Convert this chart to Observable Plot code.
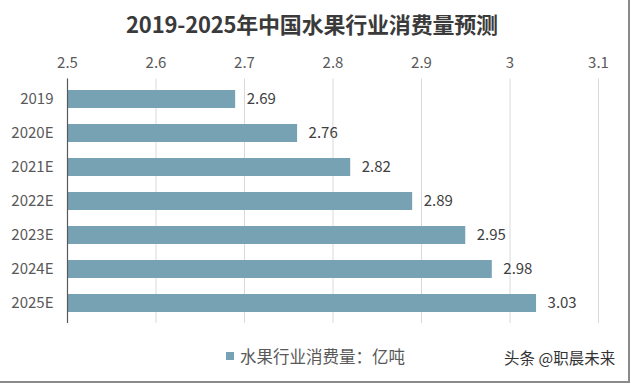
<!DOCTYPE html>
<html>
<head>
<meta charset="utf-8">
<script src="https://cdn.jsdelivr.net/npm/d3@7"></script>
<script src="https://cdn.jsdelivr.net/npm/@observablehq/plot@0.6"></script>
<style>
  html, body { margin: 0; padding: 0; background: #fff; }
  #wrap { position: relative; width: 631px; height: 385px; overflow: hidden;
          font-family: "Noto Sans CJK SC", "Noto Sans", sans-serif; }
  #title { position: absolute; left: 0; width: 624px; top: 7px; text-align: center;
           font-size: 22px; font-weight: bold; color: #3a3a3a; letter-spacing: -0.2px; }
  #legend { position: absolute; left: 226px; top: 344px; font-size: 16.5px; color: #595959;
            display: flex; align-items: center; }
  #legend .sw { width: 8px; height: 8px; background: #76A2B4; margin-right: 6px; }
  #wm { position: absolute; left: 504px; top: 346px; font-size: 15.5px; color: #333; }
  #border { position: absolute; left: 0; top: 0; width: 628px; height: 381px;
            border-right: 2px solid #8a8a8a; border-bottom: 2px solid #8a8a8a; pointer-events: none; }
  #chart { position: absolute; left: 0; top: 0; }
</style>
</head>
<body>
<div id="wrap">
  <div id="chart"></div>
  <div id="title">2019-2025年中国水果行业消费量预测</div>
  <div id="legend"><span class="sw"></span><span>水果行业消费量：亿吨</span></div>
  <div id="wm">头条 @职晨未来</div>
  <div id="border"></div>
</div>
<script>
const years = ["2019", "2020E", "2021E", "2022E", "2023E", "2024E", "2025E"];
const values = [2.69, 2.76, 2.82, 2.89, 2.95, 2.98, 3.03];
const xTicks = [2.5, 2.6, 2.7, 2.8, 2.9, 3.0, 3.1];

const data = years.map((y, i) => ({year: y, value: values[i]}));
const fmt = d => String(+d.toFixed(2));

const chart = Plot.plot({
  width: 631,
  height: 385,
  marginTop: 78.5,
  marginBottom: 62,
  marginLeft: 67,
  marginRight: 33,
  style: {fontFamily: "'Noto Sans CJK SC', 'Noto Sans', sans-serif", background: "transparent"},
  x: {domain: [2.5, 3.1], axis: null},
  y: {domain: years, axis: null, paddingInner: 0.48, paddingOuter: 0.24},
  marks: [
    Plot.ruleX(xTicks, {stroke: "#d9d9d9", strokeWidth: 1}),
    Plot.barX(data, {x1: 2.5, x2: "value", y: "year", fill: "#76A2B4"}),
    Plot.ruleX([2.5], {stroke: "#595959", strokeWidth: 1.2}),
    Plot.axisX({anchor: "top", ticks: xTicks, tickSize: 0, tickPadding: 11, label: null,
                tickFormat: fmt, fontSize: 15, fill: "#595959"}),
    Plot.axisY({anchor: "left", tickSize: 0, tickPadding: 14, label: null, fontSize: 15, fill: "#595959"}),
    Plot.text(data, {x: "value", y: "year", text: d => fmt(d.value), textAnchor: "start",
                     dx: 11, fontSize: 15, fill: "#404040"})
  ]
});
document.getElementById("chart").appendChild(chart);
</script>
</body>
</html>
